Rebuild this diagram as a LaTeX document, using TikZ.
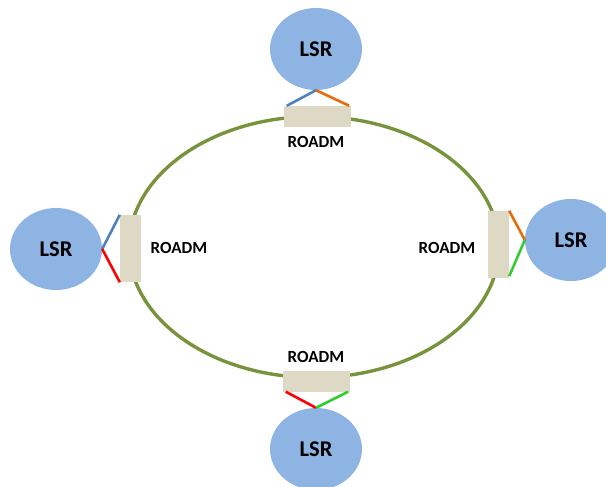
\documentclass[tikz,border=0pt]{standalone}
\usepackage{fontspec}
\setmainfont{Carlito}
\usepackage{xcolor}
\usepackage{tikz}
\usetikzlibrary{shapes.geometric}

\definecolor{lsrblue}{HTML}{8EB4E3}
\definecolor{roadmtan}{HTML}{DDD9C4}
\definecolor{ringgreen}{HTML}{77933C}
\definecolor{linkblue}{HTML}{4F81BD}
\definecolor{linkorange}{HTML}{E46C0A}
\definecolor{linkred}{HTML}{FF0000}
\definecolor{linkgreen}{HTML}{33CC33}

\begin{document}
\begin{tikzpicture}[
    x=1pt, y=-1pt,
    router/.style={ellipse, fill=lsrblue, inner sep=0pt,
        minimum width=92pt, minimum height=82pt,
        font=\bfseries\fontsize{22.5}{22.5}\selectfont},
    roadmh/.style={rectangle, fill=roadmtan, inner sep=0pt,
        minimum width=67pt, minimum height=21pt},
    roadmv/.style={rectangle, fill=roadmtan, inner sep=0pt,
        minimum width=21pt, minimum height=67pt},
    roadmlbl/.style={font=\bfseries\fontsize{17}{17}\selectfont},
    ring/.style={ellipse, draw=ringgreen, line width=3.4pt, inner sep=0pt,
        minimum width=370pt, minimum height=261pt},
    link/.style={line width=2.6pt}
]
\useasboundingbox (0,0) rectangle (606,487);

% the ring
\node[ring] (ring) at (314,247) {};

% add/drop nodes on the ring
\node[roadmh] (roadmT) at (317.5,116.5) {};
\node[roadmv] (roadmL) at (130.5,248.5) {};
\node[roadmv] (roadmR) at (498.5,244.5) {};
\node[roadmh] (roadmB) at (316.5,381) {};

\node[roadmlbl] (lblT) at (316,142) {ROADM};
\node[roadmlbl] (lblL) at (179,248) {ROADM};
\node[roadmlbl] (lblR) at (447,248) {ROADM};
\node[roadmlbl] (lblB) at (316,357) {ROADM};

% routers
\node[router] (lsrT) at (316,49) {LSR};
\node[router] (lsrL) at (56,249) {LSR};
\node[router] (lsrR) at (571,240) {LSR};
\node[router] (lsrB) at (316,449) {LSR};

% links
\draw[link, linkblue] (lsrT.south) -- ([xshift=3pt]roadmT.north west);
\draw[link, linkorange] (lsrT.south) -- ([xshift=-2pt]roadmT.north east);
\draw[link, linkblue] (lsrL.east) -- (roadmL.north west);
\draw[link, linkred] (lsrL.east) -- (roadmL.south west);
\draw[link, linkorange] (lsrR.west) -- (roadmR.north east);
\draw[link, linkgreen] (lsrR.west) -- ([yshift=2pt]roadmR.south east);
\draw[link, linkred] (lsrB.north) -- ([xshift=3pt]roadmB.south west);
\draw[link, linkgreen] (lsrB.north) -- ([xshift=-2pt]roadmB.south east);

\end{tikzpicture}
\end{document}
